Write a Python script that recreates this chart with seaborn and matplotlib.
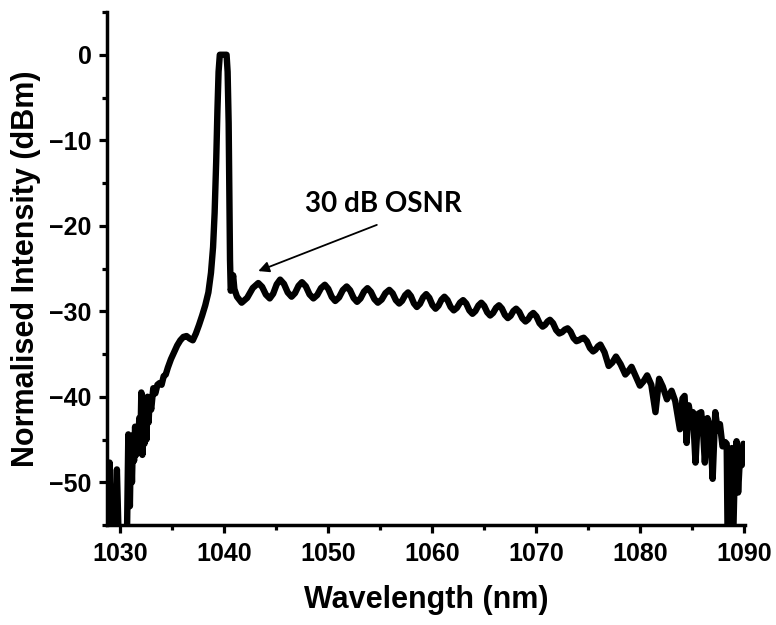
import matplotlib
matplotlib.use('Agg')
import matplotlib.pyplot as plt
from matplotlib.ticker import MultipleLocator
import seaborn as sns
import pandas as pd

# ---- data ----
wavelength_nm = [
    # short-wavelength noise floor
    1028.80, 1029.00, 1029.20, 1029.50, 1029.70, 1029.90, 1030.65, 1030.80, 1030.95, 1031.05,
    1031.15, 1031.25, 1031.35, 1031.45, 1031.55, 1031.65, 1031.75, 1031.85, 1031.95, 1032.05,
    1032.15, 1032.25, 1032.35, 1032.45, 1032.55, 1032.65, 1032.75, 1032.85, 1033.00, 1033.20,
    1033.40, 1033.60, 1033.80, 1034.00, 1034.20, 1034.40,
    # rising edge and laser line
    1034.60, 1034.90, 1035.20, 1035.50, 1035.80, 1036.10, 1036.40, 1036.70, 1037.00, 1037.30,
    1037.60, 1037.90, 1038.20, 1038.50, 1038.75, 1038.95, 1039.10, 1039.25, 1039.37, 1039.48,
    1039.60, 1040.25, 1040.35, 1040.45, 1040.52, 1040.58, 1040.65, 1040.75, 1040.88, 1041.00,
    1041.25,
    # rippled ASE plateau
    1041.70, 1042.23, 1042.77, 1043.30, 1043.67, 1044.03, 1044.40, 1044.73, 1045.07, 1045.40,
    1045.77, 1046.13, 1046.50, 1046.83, 1047.17, 1047.50, 1047.87, 1048.23, 1048.60, 1048.97,
    1049.33, 1049.70, 1050.03, 1050.37, 1050.70, 1051.07, 1051.43, 1051.80, 1052.13, 1052.47,
    1052.80, 1053.13, 1053.47, 1053.80, 1054.13, 1054.47, 1054.80, 1055.17, 1055.53, 1055.90,
    1056.22, 1056.53, 1056.85, 1057.13, 1057.42, 1057.70, 1057.98, 1058.27, 1058.55, 1058.85,
    1059.15, 1059.45, 1059.75, 1060.05, 1060.35, 1060.63, 1060.92, 1061.20, 1061.50, 1061.80,
    1062.10, 1062.40, 1062.70, 1063.00, 1063.30, 1063.60, 1063.90, 1064.18, 1064.47, 1064.75,
    1065.03, 1065.32, 1065.60, 1065.88, 1066.17, 1066.45, 1066.73, 1067.02, 1067.30, 1067.57,
    1067.83, 1068.10, 1068.40, 1068.70, 1069.00, 1069.25, 1069.50, 1069.75, 1070.05, 1070.35,
    1070.65, 1070.88, 1071.12, 1071.35, 1071.65, 1071.95, 1072.25, 1072.52, 1072.78, 1073.05,
    1073.33, 1073.62, 1073.90, 1074.13, 1074.37, 1074.60, 1074.90, 1075.20, 1075.50, 1075.73,
    1075.97, 1076.20,
    # long-wavelength tail
    1076.60, 1077.00, 1077.35, 1077.70, 1078.15, 1078.60, 1078.90, 1079.20, 1079.60, 1080.00,
    1080.35, 1080.70, 1081.10, 1081.50, 1081.85, 1082.20, 1082.60, 1083.05, 1083.40, 1083.85,
    1084.10, 1084.30, 1084.50, 1084.70, 1084.90, 1085.10, 1085.35, 1085.60, 1085.90, 1086.10,
    1086.25, 1086.50, 1086.75, 1087.00, 1087.25, 1087.50, 1087.70, 1087.95, 1088.20, 1088.35,
    1088.45, 1088.60, 1088.70, 1088.85, 1088.95, 1089.10, 1089.30, 1089.45, 1089.65, 1089.80,
    1089.95,
]
intensity_dbm = [
    -58.0, -47.7, -58.0, -58.0, -48.5, -58.0, -58.0, -44.4, -52.8, -45.0,
    -50.0, -44.5, -47.5, -43.5, -46.8, -43.8, -46.5, -42.5, -46.0, -39.5,
    -46.8, -40.2, -45.5, -40.5, -45.0, -40.0, -43.0, -40.3, -41.5, -39.0,
    -39.6, -38.6, -38.4, -38.6, -37.6, -37.4,
    -36.6, -35.6, -34.8, -34.0, -33.4, -33.0, -32.9, -33.2, -33.4, -32.6,
    -31.6, -30.5, -29.3, -27.8, -25.5, -22.5, -18.5, -12.5, -6.5, -2.0,
    0.0, 0.0, -2.0, -8.0, -16.0, -24.0, -27.6, -27.0, -25.8, -27.4,
    -28.3,
    -29.0, -28.43, -27.28, -26.7, -27.15, -28.05, -28.5, -27.95, -26.85, -26.3,
    -26.8, -27.8, -28.3, -27.88, -27.03, -26.6, -27.08, -28.03, -28.5, -28.1,
    -27.3, -26.9, -27.38, -28.33, -28.8, -28.38, -27.53, -27.1, -27.55, -28.45,
    -28.9, -28.5, -27.7, -27.3, -27.73, -28.58, -29.0, -28.63, -27.88, -27.5,
    -27.9, -28.7, -29.1, -28.78, -28.13, -27.8, -28.23, -29.08, -29.5, -29.13,
    -28.38, -28.0, -28.43, -29.28, -29.7, -29.35, -28.65, -28.3, -28.7, -29.5,
    -29.9, -29.6, -29.0, -28.7, -29.1, -29.9, -30.3, -29.98, -29.33, -29.0,
    -29.38, -30.13, -30.5, -30.2, -29.6, -29.3, -29.68, -30.43, -30.8, -30.53,
    -29.98, -29.7, -30.08, -30.83, -31.2, -30.95, -30.45, -30.2, -30.6, -31.4,
    -31.8, -31.6, -31.2, -31.0, -31.4, -32.2, -32.6, -32.45, -32.15, -32.0,
    -32.38, -33.13, -33.5, -33.4, -33.2, -33.1, -33.5, -34.3, -34.7, -34.5,
    -34.1, -33.9,
    -34.8, -36.4, -36.0, -35.3, -36.2, -37.4, -37.0, -36.5, -37.6, -38.7,
    -38.2, -37.5, -38.6, -41.8, -37.9, -38.8, -40.3, -39.3, -40.5, -43.8,
    -40.2, -39.9, -45.4, -41.0, -42.5, -41.8, -47.7, -42.0, -41.8, -44.5,
    -47.7, -42.5, -43.5, -49.6, -41.8, -44.0, -43.2, -45.8, -45.3, -45.5,
    -58.0, -47.0, -58.0, -46.0, -58.0, -50.0, -45.2, -51.2, -46.5, -48.0,
    -45.5,
]
x_ticks = [1030, 1040, 1050, 1060, 1070, 1080, 1090]
y_ticks = [-50, -40, -30, -20, -10, 0]
x_label = "Wavelength (nm)"
y_label = "Normalised Intensity (dBm)"
note_text = "30 dB OSNR"

sns.set_theme(style='ticks')
plt.rcParams['font.family'] = ['Liberation Sans', 'DejaVu Sans']
plt.rcParams['font.weight'] = 'bold'
plt.rcParams['axes.labelweight'] = 'bold'
plt.rcParams['text.color'] = 'black'
plt.rcParams['axes.labelcolor'] = 'black'
plt.rcParams['xtick.color'] = 'black'
plt.rcParams['ytick.color'] = 'black'

fig = plt.figure(figsize=(7.76, 6.25), dpi=100)
ax = fig.add_axes([0.1379, 0.16, 0.822, 0.8208])

df = pd.DataFrame({'Wavelength': wavelength_nm, 'Intensity': intensity_dbm})
sns.lineplot(data=df, x='Wavelength', y='Intensity', ax=ax, color='black',
             linewidth=4.6, estimator=None, sort=False,
             solid_joinstyle='round', solid_capstyle='round')

ax.set_xlim(1028.75, 1090.1)
ax.set_ylim(-55, 5)
ax.set_xticks(x_ticks)
ax.set_yticks(y_ticks)
ax.xaxis.set_minor_locator(MultipleLocator(5))
ax.yaxis.set_minor_locator(MultipleLocator(5))

for side in ['top', 'right']:
    ax.spines[side].set_visible(False)
for side in ['left', 'bottom']:
    ax.spines[side].set_linewidth(2.5)
    ax.spines[side].set_color('black')

ax.tick_params(which='major', direction='out', length=6, width=2.3, labelsize=18,
               colors='black')
ax.tick_params(which='minor', direction='out', length=3.5, width=2.3, colors='black')
ax.tick_params(axis='x', which='major', pad=6)
ax.tick_params(axis='y', which='major', pad=5)

ax.set_xlabel(x_label, fontsize=22, fontweight='bold', labelpad=14, color='black')
ax.set_ylabel(y_label, fontsize=22, fontweight='bold', labelpad=6, color='black')

ax.annotate('', xy=(1043.3, -25.3), xytext=(1054.7, -19.9),
            arrowprops=dict(arrowstyle='-|>', color='black', lw=1.3,
                            mutation_scale=16, shrinkA=0, shrinkB=0))
ax.text(1055.3, -17.4, note_text, ha='center', va='center', fontsize=20,
        fontweight='bold', color='black', family=['Lato', 'DejaVu Sans'])

fig.savefig('out.png', dpi=100)
